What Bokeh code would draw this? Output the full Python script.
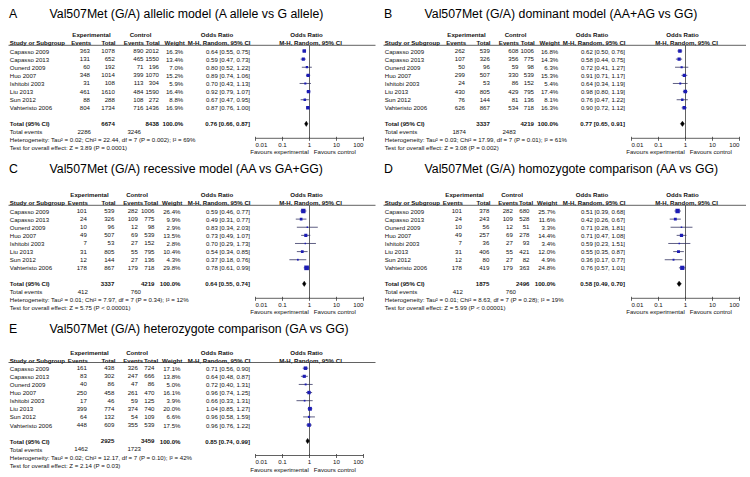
from bokeh.plotting import figure
from bokeh.models import Range1d, LogScale, ColumnDataSource
from bokeh.core.properties import value
from bokeh.embed import file_html
from bokeh.resources import INLINE

# ---------------- data ----------------
studies = ["Capasso 2009", "Capasso 2013", "Ounerd 2009", "Huo 2007",
           "Ishitobi 2003", "Liu 2013", "Sun 2012", "Vahteristo 2006"]
axis_ticks = [0.01, 0.1, 1, 10, 100]
axis_labels = ["0.01", "0.1", "1", "10", "100"]

# A: allelic model
a_title = "Val507Met (G/A) allelic model (A allele vs G allele)"
a_exp_ev = [363, 131, 60, 348, 31, 461, 88, 804]
a_exp_tot = [1078, 652, 192, 1014, 108, 1610, 288, 1734]
a_ctl_ev = [890, 465, 71, 399, 113, 484, 108, 716]
a_ctl_tot = [2012, 1550, 196, 1070, 304, 1590, 272, 1436]
a_weight = [16.3, 13.4, 7.0, 15.2, 5.9, 16.4, 8.8, 16.9]
a_or = [0.64, 0.59, 0.80, 0.89, 0.70, 0.92, 0.67, 0.87]
a_lo = [0.55, 0.47, 0.52, 0.74, 0.43, 0.79, 0.47, 0.76]
a_hi = [0.75, 0.73, 1.22, 1.06, 1.13, 1.07, 0.95, 1.00]
a_total = [6674, 8438, 0.76, 0.66, 0.87]
a_events = [2286, 3246]
a_het = "Heterogeneity: Tau² = 0.02; Chi² = 22.44, df = 7 (P = 0.002); I² = 69%"
a_test = "Test for overall effect: Z = 3.89 (P = 0.0001)"

# B: dominant model
b_title = "Val507Met (G/A) dominant model (AA+AG vs GG)"
b_exp_ev = [262, 107, 50, 299, 24, 430, 76, 626]
b_exp_tot = [539, 326, 96, 507, 53, 805, 144, 867]
b_ctl_ev = [608, 356, 59, 330, 86, 429, 81, 534]
b_ctl_tot = [1006, 775, 98, 539, 152, 795, 136, 718]
b_weight = [16.8, 14.3, 6.3, 15.3, 5.4, 17.4, 8.1, 16.3]
b_or = [0.62, 0.58, 0.72, 0.91, 0.64, 0.98, 0.76, 0.90]
b_lo = [0.50, 0.44, 0.41, 0.71, 0.34, 0.80, 0.47, 0.72]
b_hi = [0.76, 0.75, 1.27, 1.17, 1.19, 1.19, 1.22, 1.12]
b_total = [3337, 4219, 0.77, 0.65, 0.91]
b_events = [1874, 2483]
b_het = "Heterogeneity: Tau² = 0.03; Chi² = 17.99, df = 7 (P = 0.01); I² = 61%"
b_test = "Test for overall effect: Z = 3.08 (P = 0.002)"

# C: recessive model
c_title = "Val507Met (G/A) recessive model (AA vs GA+GG)"
c_exp_ev = [101, 24, 10, 49, 7, 31, 12, 178]
c_exp_tot = [539, 326, 96, 507, 53, 805, 144, 867]
c_ctl_ev = [282, 109, 12, 69, 27, 55, 27, 179]
c_ctl_tot = [1006, 775, 98, 539, 152, 795, 136, 718]
c_weight = [26.4, 9.9, 2.9, 13.5, 2.8, 10.4, 4.3, 29.8]
c_or = [0.59, 0.49, 0.83, 0.73, 0.70, 0.54, 0.37, 0.78]
c_lo = [0.46, 0.31, 0.34, 0.49, 0.29, 0.34, 0.18, 0.61]
c_hi = [0.77, 0.77, 2.03, 1.07, 1.73, 0.85, 0.76, 0.99]
c_total = [3337, 4219, 0.64, 0.55, 0.74]
c_events = [412, 760]
c_het = "Heterogeneity: Tau² = 0.01; Chi² = 7.97, df = 7 (P = 0.34); I² = 12%"
c_test = "Test for overall effect: Z = 5.75 (P < 0.00001)"

# D: homozygote comparison
d_title = "Val507Met (G/A) homozygote comparison (AA vs GG)"
d_exp_ev = [101, 24, 10, 49, 7, 31, 12, 178]
d_exp_tot = [378, 243, 56, 257, 36, 406, 80, 419]
d_ctl_ev = [282, 109, 12, 69, 27, 55, 27, 179]
d_ctl_tot = [680, 528, 51, 278, 93, 421, 82, 363]
d_weight = [25.7, 11.6, 3.3, 14.4, 3.4, 12.0, 4.9, 24.8]
d_or = [0.51, 0.42, 0.71, 0.71, 0.59, 0.55, 0.36, 0.76]
d_lo = [0.39, 0.26, 0.28, 0.47, 0.23, 0.35, 0.17, 0.57]
d_hi = [0.68, 0.67, 1.81, 1.08, 1.51, 0.87, 0.77, 1.01]
d_total = [1875, 2496, 0.58, 0.49, 0.70]
d_events = [412, 760]
d_het = "Heterogeneity: Tau² = 0.01; Chi² = 8.63, df = 7 (P = 0.28); I² = 19%"
d_test = "Test for overall effect: Z = 5.99 (P < 0.00001)"

# E: heterozygote comparison
e_title = "Val507Met (G/A) heterozygote comparison (GA vs GG)"
e_exp_ev = [161, 83, 40, 250, 17, 399, 64, 448]
e_exp_tot = [438, 302, 86, 458, 46, 774, 132, 609]
e_ctl_ev = [326, 247, 47, 261, 59, 374, 54, 355]
e_ctl_tot = [724, 666, 86, 470, 125, 740, 109, 539]
e_weight = [17.1, 13.8, 5.0, 16.1, 3.9, 20.0, 6.6, 17.5]
e_or = [0.71, 0.64, 0.72, 0.96, 0.66, 1.04, 0.96, 0.96]
e_lo = [0.56, 0.48, 0.40, 0.74, 0.33, 0.85, 0.58, 0.76]
e_hi = [0.90, 0.87, 1.31, 1.25, 1.31, 1.27, 1.59, 1.22]
e_total = [2925, 3459, 0.85, 0.74, 0.99]
e_events = [1462, 1723]
e_het = "Heterogeneity: Tau² = 0.02; Chi² = 12.17, df = 7 (P = 0.10); I² = 42%"
e_test = "Test for overall effect: Z = 2.14 (P = 0.03)"

# ---------------- figure ----------------
FONT = value("Liberation Sans")
SMALL = "6.1px"
BIG = "12.3px"
TXT = "#111111"
LINE = "#3a3a3a"
FW, FH = 746, 473

p = figure(width=FW, height=FH, x_range=Range1d(0, FW), y_range=Range1d(FH, 0),
           output_backend="svg", toolbar_location=None, min_border=0,
           x_axis_location=None, y_axis_location=None)
p.grid.visible = False
p.outline_line_color = None
p.background_fill_color = "white"

DEC = 27.0  # px per decade


def log_range(left_px):
    la = -2 - left_px / DEC
    lb = la + FW / DEC
    return Range1d(10 ** la, 10 ** lb)


p.extra_x_ranges = {"fl": log_range(255), "fr": log_range(631)}
p.extra_x_scales = {"fl": LogScale(), "fr": LogScale()}


def txt(xs, ys, texts, align="left", bold=False, size=SMALL, color=TXT, rng="default"):
    src = ColumnDataSource(dict(x=list(xs), y=list(ys), t=list(texts)))
    p.text(x="x", y="y", text="t", source=src, text_align=align, text_baseline="middle",
           text_font=FONT, text_font_size=size,
           text_font_style="bold" if bold else "normal", text_color=color,
           x_range_name=rng)


AB_cols = [89.5, 114.3, 143.0, 158.5, 182.7, 249.5]
AB_head = [90.7, 115.0, 143.3, 159.3, 184.3, 250.0]
CD_cols = [86.3, 113.8, 137.3, 154.0, 180.0, 249.5]
CD_head = [87.3, 115.0, 142.7, 157.7, 181.7, 250.0]

panels = [
    dict(letter="A", title=a_title, ev1=a_exp_ev, t1=a_exp_tot, ev2=a_ctl_ev, t2=a_ctl_tot,
         w=a_weight, orr=a_or, lo=a_lo, hi=a_hi, tot=a_total, evs=a_events, het=a_het,
         test=a_test, ox=0, rng="fl", ty=13.5, H=34.3, cols=AB_cols, head=AB_head, grp=(91, 140)),
    dict(letter="B", title=b_title, ev1=b_exp_ev, t1=b_exp_tot, ev2=b_ctl_ev, t2=b_ctl_tot,
         w=b_weight, orr=b_or, lo=b_lo, hi=b_hi, tot=b_total, evs=b_events, het=b_het,
         test=b_test, ox=375, rng="fr", ty=13.5, H=34.3, cols=AB_cols, head=AB_head, grp=(91, 140)),
    dict(letter="C", title=c_title, ev1=c_exp_ev, t1=c_exp_tot, ev2=c_ctl_ev, t2=c_ctl_tot,
         w=c_weight, orr=c_or, lo=c_lo, hi=c_hi, tot=c_total, evs=c_events, het=c_het,
         test=c_test, ox=0, rng="fl", ty=168.3, H=194.3, cols=CD_cols, head=CD_head, grp=(89, 136.5)),
    dict(letter="D", title=d_title, ev1=d_exp_ev, t1=d_exp_tot, ev2=d_ctl_ev, t2=d_ctl_tot,
         w=d_weight, orr=d_or, lo=d_lo, hi=d_hi, tot=d_total, evs=d_events, het=d_het,
         test=d_test, ox=375, rng="fr", ty=168.3, H=194.3, cols=CD_cols, head=CD_head, grp=(89, 136.5)),
    dict(letter="E", title=e_title, ev1=e_exp_ev, t1=e_exp_tot, ev2=e_ctl_ev, t2=e_ctl_tot,
         w=e_weight, orr=e_or, lo=e_lo, hi=e_hi, tot=e_total, evs=e_events, het=e_het,
         test=e_test, ox=0, rng="fl", ty=328.3, H=351.5, cols=CD_cols, head=CD_head, grp=(89, 136.5)),
]

ROW0 = 16.2
ROWSTEP = 8.12

for pn in panels:
    ox, H, rng = pn["ox"], pn["H"], pn["rng"]
    cols = [c + ox for c in pn["cols"]]
    head = [c + ox for c in pn["head"]]
    fo = 376 if ox else 0
    n = len(studies)
    ys = [H + ROW0 + ROWSTEP * i for i in range(n)]
    y_tot = H + 89
    y_ev = H + 97
    y_het = H + 105
    y_test = H + 113
    y_line = H + 10.5
    y_axis = H + 103.5
    y_lab = H + 110
    y_fav = H + 117

    # letter + title
    txt([8.5 + ox], [pn["ty"]], [pn["letter"]], size=BIG, color="#000")
    txt([49 + ox], [pn["ty"]], [pn["title"]], size=BIG, color="#000")

    # headers
    txt([pn["grp"][0] + ox, pn["grp"][1] + ox, 216.5 + ox, 306 + fo], [H] * 4,
        ["Experimental", "Control", "Odds Ratio", "Odds Ratio"], "center", True)
    txt([9.3 + ox], [H + 8], ["Study or Subgroup"], "left", True)
    txt(head, [H + 8] * 6, ["Events", "Total", "Events", "Total", "Weight",
                            "M-H, Random, 95% CI"], "right", True)
    txt([310 + fo], [H + 8], ["M-H, Random, 95% CI"], "center", True)
    p.segment(x0=[8 + ox], x1=[375 + ox], y0=[y_line], y1=[y_line], line_color=LINE,
              line_width=0.8)

    # study rows
    txt([9.3 + ox] * n, ys, studies, "left")
    ci_txt = [f"{o:.2f} [{l:.2f}, {h:.2f}]" for o, l, h in zip(pn["orr"], pn["lo"], pn["hi"])]
    columns = [[str(v) for v in pn["ev1"]], [str(v) for v in pn["t1"]],
               [str(v) for v in pn["ev2"]], [str(v) for v in pn["t2"]],
               [f"{v:.1f}%" for v in pn["w"]], ci_txt]
    for cx, col in zip(cols, columns):
        txt([cx] * n, ys, col, "right")

    # totals
    tot = pn["tot"]
    txt([9.3 + ox], [y_tot], ["Total (95% CI)"], "left", True)
    txt([cols[1], cols[3], cols[4], cols[5]], [y_tot] * 4,
        [str(tot[0]), str(tot[1]), "100.0%", f"{tot[2]:.2f} [{tot[3]:.2f}, {tot[4]:.2f}]"],
        "right", True)
    txt([9.3 + ox, 9.3 + ox, 9.3 + ox], [y_ev, y_het, y_test],
        ["Total events", pn["het"], pn["test"]], "left")
    txt([cols[0] + 1, 140.5 + ox], [y_ev, y_ev], [str(v) for v in pn["evs"]], "right")

    # forest plot
    p.segment(x0=[1], x1=[1], y0=[y_line], y1=[y_axis], line_color=LINE, line_width=0.8,
              x_range_name=rng)
    p.segment(x0=pn["lo"], x1=pn["hi"], y0=ys, y1=ys, line_color="#2a2a5a", line_width=0.75,
              x_range_name=rng)
    sizes = [0.85 * (w ** 0.5) for w in pn["w"]]
    p.scatter(x=pn["orr"], y=ys, size=sizes, marker="square", fill_color="#1c1cb4",
              line_color=None, x_range_name=rng)
    p.patches(xs=[[tot[3], tot[2], tot[4], tot[2]]],
              ys=[[y_tot, y_tot - 2.6, y_tot, y_tot + 2.6]],
              fill_color="black", line_color="black", line_width=0.5, x_range_name=rng)

    # axis
    p.segment(x0=[axis_ticks[0]], x1=[axis_ticks[-1]], y0=[y_axis], y1=[y_axis],
              line_color=LINE, line_width=0.8, x_range_name=rng)
    p.segment(x0=axis_ticks, x1=axis_ticks, y0=[y_axis - 1.5] * 5, y1=[y_axis + 2.5] * 5,
              line_color=LINE, line_width=0.8, x_range_name=rng)
    txt([axis_ticks[0]], [y_lab], [axis_labels[0]], "left", rng=rng)
    txt(axis_ticks[1:4], [y_lab] * 3, axis_labels[1:4], "center", rng=rng)
    txt([axis_ticks[-1]], [y_lab], [axis_labels[-1]], "right", rng=rng)
    txt([308.3 + fo], [y_fav], ["Favours experimental"], "right")
    txt([313.3 + fo], [y_fav], ["Favours control"], "left")

open("out.html", "w").write(file_html(p, INLINE))
